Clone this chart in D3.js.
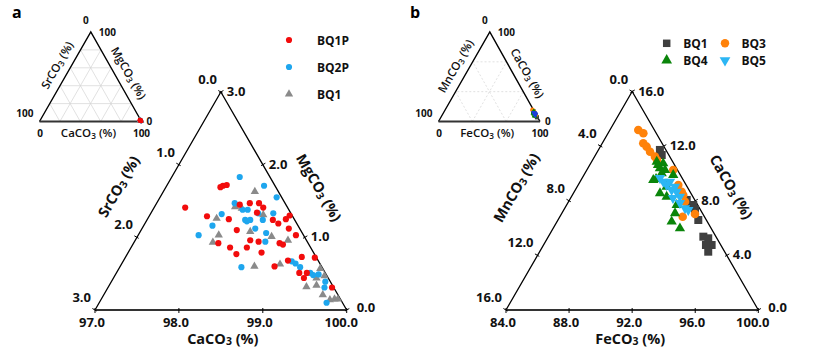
<!DOCTYPE html>
<html><head><meta charset="utf-8">
<script src="https://cdn.jsdelivr.net/npm/d3@7"></script>
<style>body{margin:0;background:#fff}svg{display:block;font-family:"Open Sans",sans-serif}</style>
</head><body><svg id="c" width="832" height="350"></svg>
<script>
// ---------- Panel a data: [SrCO3 %, MgCO3 %]  (CaCO3 = 100 - Sr - Mg)
const BQ1P = [[0.62,1.71],[0.57,1.72],[0.66,1.69],[1.22,1.41],[0.55,1.45],[0.42,1.47],[0.31,1.47],[0.29,1.41],[1.02,1.29],[0.78,1.25],[0.40,1.34],[0.26,1.24],[0.10,1.25],[0.03,1.30],[0.22,1.19],[0.13,1.12],[0.76,1.10],[0.67,0.96],[0.58,0.94],[0.09,1.03],[1.07,0.92],[0.96,0.86],[0.76,0.86],[0.62,0.79],[0.93,0.77],[0.34,0.92],[0.31,0.90],[0.56,0.60],[0.36,0.68],[0.17,0.73],[0.02,0.72],[0.31,0.51],[0.29,0.44],[0.22,0.51],[0.02,0.31]];
const BQ2P = [[0.36,1.83],[0.13,1.71],[0.06,1.55],[0.60,1.47],[0.83,1.32],[0.55,1.38],[0.49,1.38],[0.39,1.33],[0.59,1.24],[0.58,1.22],[0.53,1.24],[0.21,1.33],[0.38,1.24],[1.02,1.16],[0.53,1.12],[1.25,1.03],[0.43,1.06],[0.50,0.94],[0.96,0.59],[0.32,0.67],[0.29,0.64],[0.26,0.59],[0.18,0.51],[0.16,0.48],[0.09,0.49],[0.06,0.39],[0.11,0.31],[0.19,0.10]];
const BQ1a = [[0.28,1.63],[0.92,1.26],[1.01,1.03],[1.13,0.93],[0.55,1.40],[0.62,1.42],[0.61,1.08],[0.34,1.31],[0.39,1.01],[0.22,0.96],[0.80,0.60],[0.48,0.63],[0.03,0.57],[0.32,0.32],[0.19,0.34],[0.18,0.21],[0.03,0.47],[0.13,0.14],[0.07,0.15],[0.03,0.15],[0.14,0.44]];

// ---------- Panel b data: [MnCO3 %, CaCO3 %]  (FeCO3 = 100 - Mn - Ca)
const BQ1b = [[0.38,11.72],[0.45,11.35],[0.51,8.06],[0.52,7.62],[0.33,7.37],[0.51,6.59],[0.80,5.37],[0.55,5.25],[0.58,4.76],[1.04,4.27],[0.94,4.76],[0.28,7.69]];
const BQ3 = [[1.02,13.18],[0.82,12.94],[1.19,12.21],[1.10,11.96],[1.07,11.59],[0.94,11.23],[0.27,10.25],[0.50,9.15],[0.53,8.66],[0.55,8.42],[0.68,7.93],[1.38,6.83],[0.50,7.03],[0.93,10.98]];
const BQ4 = [[1.01,10.86],[0.66,10.74],[1.05,10.38],[0.79,10.25],[1.12,10.01],[1.90,9.52],[1.30,9.03],[1.96,8.55],[1.66,8.30],[1.33,7.69],[1.74,7.08],[2.26,6.47],[1.98,5.98],[0.45,9.89],[1.05,10.62],[1.69,9.59]];
const BQ5 = [[1.33,9.40],[0.90,9.40],[0.77,9.03],[0.85,8.66],[1.10,8.79],[0.82,8.30],[0.92,7.45],[0.78,7.32],[1.24,9.15],[1.31,8.20],[1.40,9.67],[1.05,7.84]];

// ---------- tick values
const caTicksA = [97,98,99,100], srTicksA = [0,1,2,3], mgTicksA = [0,1,2,3];
const feTicksB = [84,88,92,96,100], mnTicksB = [0,4,8,12,16], caTicksB = [0,4,8,12,16];
const insetTicks = [0,100];

const svg = d3.select("#c");
const fmt = d3.format(".1f");

function ternary(geom, bDom, lMax, rMax) {
  const sB = d3.scaleLinear().domain(bDom).range([0,1]);
  const sL = d3.scaleLinear().domain([0,lMax]).range([0,1]);
  const sR = d3.scaleLinear().domain([0,rMax]).range([0,1]);
  const {bl,br,ap} = geom;
  return (l, r) => {
    const b = 100 - l - r, wb = sB(b), wl = sL(l), wr = sR(r);
    return [wb*br[0]+wl*bl[0]+wr*ap[0], wb*br[1]+wl*bl[1]+wr*ap[1]];
  };
}

function chem(sel, base, size) {
  sel.append("tspan").text(base);
  sel.append("tspan").attr("font-size", size*0.72).attr("dy", 1.5).text("3");
  sel.append("tspan").attr("dy", -1.5).text(" (%)");
}

function edgeTitle(g, p0, p1, dn, da, rot, base, size, weight) {
  const m = [(p0[0]+p1[0])/2, (p0[1]+p1[1])/2];
  const len = Math.hypot(p1[0]-p0[0], p1[1]-p0[1]);
  const u = [(p1[0]-p0[0])/len, (p1[1]-p0[1])/len];
  const n = rot < 0 ? [-0.866,-0.5] : [0.866,-0.5];
  const x = m[0] + n[0]*dn + u[0]*da, y = m[1] + n[1]*dn + u[1]*da;
  g.append("text").attr("transform", `translate(${x},${y}) rotate(${rot})`)
    .attr("text-anchor","middle").attr("dy","0.35em")
    .attr("font-size", size).attr("font-weight", weight).attr("fill","#111")
    .call(t => chem(t, base, size));
}

function frame(g, geom, sideW, botW) {
  const {bl,br,ap} = geom;
  g.append("path").attr("d", `M${bl}L${ap}L${br}`).attr("fill","none").attr("stroke","#000").attr("stroke-width",sideW).attr("stroke-linejoin","miter");
  g.append("line").attr("x1",bl[0]).attr("y1",bl[1]).attr("x2",br[0]).attr("y2",br[1]).attr("stroke","#333").attr("stroke-width",botW);
}

function mainPanel(geom, bDom, lMax, rMax, bT, lT, rT, titles) {
  const g = svg.append("g");
  const P = ternary(geom, bDom, lMax, rMax);
  frame(g, geom, 1.3, 2.2);
  const lab = (x,y,t,anchor) => g.append("text").attr("x",x).attr("y",y).attr("text-anchor",anchor)
      .attr("font-size",13).attr("font-weight",700).attr("fill","#111").text(fmt(t));
  const tick = (x,y,n) => g.append("line").attr("x1",x-n[0]*2).attr("y1",y-n[1]*2).attr("x2",x+n[0]*3).attr("y2",y+n[1]*3).attr("stroke","#000").attr("stroke-width",1);
  const bLast = bT[bT.length-1];
  bT.forEach(t => { const [x,y] = P(100-t,0); tick(x,y,[0,1]); lab(x - (t === bLast ? 5.5 : 3), y+16.5, t, "middle"); });
  lT.forEach(t => { const [x,y] = P(t, lMax-t); tick(x,y,[-0.866,-0.5]); lab(x-4, y-8, t, "end"); });
  rT.forEach(t => { const [x,y] = P(0,t); tick(x,y,[0.866,-0.5]);
    if (t === 0) lab(x+10, y+2, t, "start"); else lab(x+6, y+4, t, "start"); });
  const {bl,br,ap} = geom;
  edgeTitle(g, bl, ap, titles.ln, titles.la, -60, titles.l, 14.5, 700);
  edgeTitle(g, br, ap, titles.rn, titles.ra, 60, titles.r, 14.5, 700);
  g.append("text").attr("x",(bl[0]+br[0])/2 + titles.bx).attr("y",338.5).attr("dy","0.35em")
    .attr("text-anchor","middle").attr("font-size",14.5).attr("font-weight",700).attr("fill","#111")
    .call(t => chem(t, titles.b, 14.5));
  return {g, P};
}

function insetPanel(geom, dashed, titles) {
  const g = svg.append("g");
  const P = ternary(geom, [0,100], 100, 100);
  const steps = dashed ? [100/3, 200/3] : [20,40,60,80];
  steps.forEach(v => {
    [[P(0,v), P(100-v,v)], [P(v,0), P(v,100-v)], [P(100-v,0), P(0,100-v)]].forEach(([a,b]) => {
      g.append("line").attr("x1",a[0]).attr("y1",a[1]).attr("x2",b[0]).attr("y2",b[1])
        .attr("stroke","#d4d4d4").attr("stroke-width",0.7).attr("stroke-dasharray", dashed ? "2,2" : null);
    });
  });
  frame(g, geom, 1.4, 2);
  const {bl,br,ap} = geom;
  const t = (x,y,s,anchor) => g.append("text").attr("x",x).attr("y",y).attr("text-anchor",anchor)
      .attr("font-size",10).attr("font-weight",700).attr("fill","#111").text(s);
  t(ap[0]-5, ap[1]-8, insetTicks[0], "middle");
  t(ap[0]+8, ap[1]+3.5, insetTicks[1], "start");
  t(bl[0]-6, bl[1]-4.5, insetTicks[1], "end");
  t(bl[0]+0.5, bl[1]+15.5, insetTicks[0], "middle");
  t(br[0]+5, br[1]+3.5, insetTicks[0], "start");
  t(br[0], br[1]+15.5, insetTicks[1], "middle");
  edgeTitle(g, bl, ap, 12.5, titles.la, -60, titles.l, 11.5, 600);
  edgeTitle(g, br, ap, 12.5, -3, 60, titles.r, 11.5, 600);
  g.append("text").attr("x",(bl[0]+br[0])/2 - 2).attr("y",br[1]+11.5).attr("dy","0.35em")
    .attr("text-anchor","middle").attr("font-size",11.5).attr("font-weight",600).attr("fill","#111")
    .call(s => chem(s, titles.b, 11.5));
  return {g, P};
}

function plot(g, P, data, shape, size, color, rot) {
  const sym = d3.symbol().type(shape).size(size);
  g.selectAll(null).data(data).join("path")
    .attr("d", sym)
    .attr("transform", d => { const [x,y] = P(d[0], d[1]); return `translate(${x},${y})` + (rot ? ` rotate(${rot})` : ""); })
    .attr("fill", color);
}

const colA = {p1:"#f20c0c", p2:"#1ea6ee", q1:"#8a8a8a"};
const colB = {q1:"#3f3f3f", q3:"#ff820a", q4:"#0a850a", q5:"#2cb6f4"};

// ----- Panel a
const A = mainPanel({bl:[95,310], br:[346.7,310], ap:[220.85,92]}, [97,100], 3, 3, caTicksA, srTicksA, mgTicksA,
  {l:"SrCO", r:"MgCO", b:"CaCO", ln:41, la:-7, rn:37, ra:-6, bx:2});
plot(A.g, A.P, BQ1a, d3.symbolTriangle, 30, colA.q1);
plot(A.g, A.P, BQ2P, d3.symbolCircle, 30, colA.p2);
plot(A.g, A.P, BQ1P, d3.symbolCircle, 30, colA.p1);

const Ai = insetPanel({bl:[39.5,121.5], br:[141.5,121.5], ap:[90.8,32]}, false, {l:"SrCO", r:"MgCO", b:"CaCO", la:6});
plot(Ai.g, Ai.P, BQ1a, d3.symbolTriangle, 14, colA.q1);
plot(Ai.g, Ai.P, BQ2P, d3.symbolCircle, 14, colA.p2);
plot(Ai.g, Ai.P, BQ1P, d3.symbolCircle, 14, colA.p1);

// ----- Panel b
const B = mainPanel({bl:[506,310], br:[758.3,310], ap:[632.15,91.5]}, [84,100], 16, 16, feTicksB, mnTicksB, caTicksB,
  {l:"MnCO", r:"CaCO", b:"FeCO", ln:52, la:-15, rn:38, ra:-6, bx:-2});
plot(B.g, B.P, BQ1b, d3.symbolSquare, 64, colB.q1);
plot(B.g, B.P, BQ3, d3.symbolCircle, 58, colB.q3);
plot(B.g, B.P, BQ4, d3.symbolTriangle, 46, colB.q4);
plot(B.g, B.P, BQ5, d3.symbolTriangle, 46, colB.q5, 180);

const Bi = insetPanel({bl:[438.5,121.5], br:[540,121.5], ap:[489.8,32]}, true, {l:"MnCO", r:"CaCO", b:"FeCO", la:5});
plot(Bi.g, Bi.P, BQ1b, d3.symbolSquare, 12, colB.q1);
plot(Bi.g, Bi.P, BQ3, d3.symbolCircle, 14, colB.q3);
plot(Bi.g, Bi.P, BQ4, d3.symbolTriangle, 12, colB.q4);
plot(Bi.g, Bi.P, BQ5, d3.symbolTriangle, 12, "#1a3fd8", 180);

// ----- panel letters
svg.append("text").attr("x",12).attr("y",18).attr("font-size",16).attr("font-weight",700).text("a");
svg.append("text").attr("x",410).attr("y",18).attr("font-size",16).attr("font-weight",700).text("b");

// ----- legends
const legA = [["BQ1P", d3.symbolCircle, 30, colA.p1, 0], ["BQ2P", d3.symbolCircle, 30, colA.p2, 0], ["BQ1", d3.symbolTriangle, 30, colA.q1, 0]];
legA.forEach((d,i) => {
  const y = 40 + i*27;
  svg.append("path").attr("d", d3.symbol().type(d[1]).size(d[2])).attr("transform",`translate(289,${y})`).attr("fill",d[3]);
  svg.append("text").attr("x",317).attr("y",y+4.5).attr("font-size",12).attr("font-weight",700).attr("fill","#111").text(d[0]);
});
const legB = [["BQ1", d3.symbolSquare, 56, colB.q1, 0, 0, 0], ["BQ3", d3.symbolCircle, 56, colB.q3, 0, 1, 0],
              ["BQ4", d3.symbolTriangle, 50, colB.q4, 0, 0, 1], ["BQ5", d3.symbolTriangle, 50, colB.q5, 180, 1, 1]];
legB.forEach(d => {
  const x = 666.7 + d[5]*58.3, y = 43.3 + d[6]*17;
  svg.append("path").attr("d", d3.symbol().type(d[1]).size(d[2])).attr("transform",`translate(${x},${y})` + (d[4] ? ` rotate(${d[4]})` : "")).attr("fill",d[3]);
  svg.append("text").attr("x",x+16.5).attr("y",y+4.5).attr("font-size",12).attr("font-weight",700).attr("fill","#111").text(d[0]);
});
</script></body></html>
